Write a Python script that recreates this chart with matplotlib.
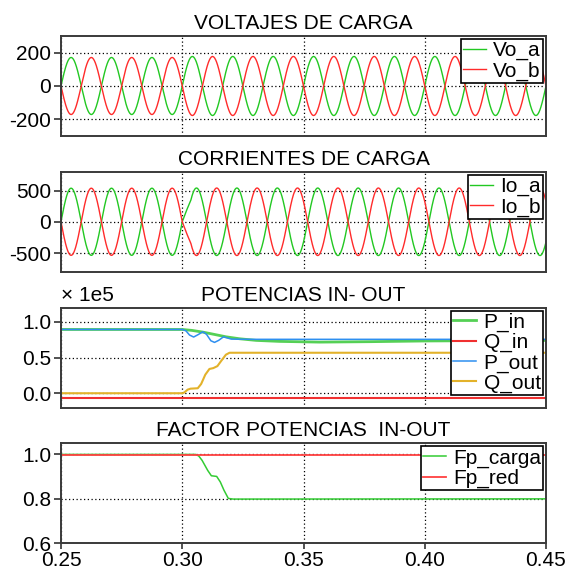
import matplotlib.pyplot as plt
import numpy as np

plt.rcParams["font.family"] = ["Liberation Sans", "DejaVu Sans"]
plt.rcParams["font.size"] = 15
plt.rcParams["axes.unicode_minus"] = False

# --- data ------------------------------------------------------------------
FREQ = 60.0           # Hz
T0, T1 = 0.25, 0.45   # s
T_EVENT = 0.30        # load change

VO_AMP_BEFORE, VO_AMP_AFTER = 171.0, 177.0
IO_AMP_BEFORE, IO_AMP_AFTER = 537.0, 540.0

# current phase lag (deg) after the load change
PHASE_T = [0.25, 0.300, 0.3035, 0.45]
PHASE_DEG = [0.0, 0.0, 36.9, 36.9]

# powers, in units of 1e5
P_IN_T = [0.25, 0.300, 0.304, 0.3085, 0.3126, 0.3181, 0.3236, 0.3305,
          0.3401, 0.3566, 0.3773, 0.40, 0.45]
P_IN = [0.893, 0.893, 0.880, 0.856, 0.828, 0.790, 0.763, 0.740,
        0.726, 0.716, 0.722, 0.732, 0.740]

Q_IN_T = [0.25, 0.45]
Q_IN = [-0.07, -0.07]

P_OUT_T = [0.25, 0.300, 0.3015, 0.3030, 0.3047, 0.3065, 0.3085, 0.3100,
           0.3118, 0.3133, 0.3150, 0.3170, 0.3185, 0.3202, 0.33, 0.45]
P_OUT = [0.893, 0.893, 0.875, 0.815, 0.787, 0.820, 0.860, 0.825,
         0.735, 0.712, 0.740, 0.790, 0.775, 0.758, 0.755, 0.755]

Q_OUT_T = [0.25, 0.3002, 0.3010, 0.3022, 0.3034, 0.3064, 0.3078, 0.3095,
           0.3112, 0.3128, 0.3145, 0.3160, 0.3180, 0.3195, 0.45]
Q_OUT = [0.0, 0.0, 0.015, 0.050, 0.064, 0.070, 0.130, 0.260,
         0.340, 0.352, 0.380, 0.450, 0.540, 0.567, 0.567]

FP_T = [0.25, 0.3055, 0.3068, 0.3082, 0.3105, 0.3120, 0.3142, 0.3157,
        0.3172, 0.3190, 0.3210, 0.45]
FP_CARGA = [1.0, 1.0, 0.993, 0.973, 0.928, 0.904, 0.901, 0.876,
            0.839, 0.802, 0.799, 0.80]

FP_RED_T = [0.25, 0.45]
FP_RED = [0.996, 0.996]

GREEN = "#22c822"
RED = "#ff2b2b"

# --- waveforms ---------------------------------------------------------------
t = np.linspace(T0, T1, 6001)
w = 2 * np.pi * FREQ
vo_amp = np.where(t < T_EVENT, VO_AMP_BEFORE, VO_AMP_AFTER)
io_amp = np.where(t < T_EVENT, IO_AMP_BEFORE, IO_AMP_AFTER)
phi = np.deg2rad(np.interp(t, PHASE_T, PHASE_DEG))

vo_a = vo_amp * np.sin(w * (t - T0))
vo_b = -vo_a
io_a = io_amp * np.sin(w * (t - T0) - phi)
io_b = -io_a

fig, axes = plt.subplots(4, 1, figsize=(5.68, 5.72), dpi=100, sharex=True)
fig.subplots_adjust(left=61 / 568, right=546 / 568, top=1 - 36 / 572,
                    bottom=1 - 543.3 / 572, hspace=0.358)


def style(ax, title, yticks, ylim):
    ax.set_title(title, pad=5, fontsize=15)
    ax.set_xlim(T0, T1)
    ax.set_ylim(*ylim)
    ax.set_yticks(yticks)
    ax.set_xticks([0.25, 0.30, 0.35, 0.40, 0.45])
    ax.grid(True, color="black", linestyle=(0, (1, 2)), linewidth=0.9)
    for s in ax.spines.values():
        s.set_color("#3a3a3a")
        s.set_linewidth(1.4)
    ax.tick_params(axis="y", length=5, width=1.2, pad=2, color="#333333")
    ax.tick_params(axis="x", length=4, width=1.2, pad=1.5, color="#333333")


def legend(ax):
    leg = ax.legend(loc="upper right", fancybox=False, framealpha=1,
                    edgecolor="black", fontsize=15, borderpad=0.1,
                    labelspacing=0.05, handlelength=1.1, handletextpad=0.35,
                    borderaxespad=0.15)
    leg.get_frame().set_linewidth(1.2)


ax = axes[0]
ax.plot(t, vo_a, color=GREEN, lw=1.0, label="Vo_a")
ax.plot(t, vo_b, color=RED, lw=1.0, label="Vo_b")
style(ax, "VOLTAJES DE CARGA", [-200, 0, 200], (-300, 300))
legend(ax)

ax = axes[1]
ax.plot(t, io_a, color=GREEN, lw=1.0, label="Io_a")
ax.plot(t, io_b, color=RED, lw=1.0, label="Io_b")
style(ax, "CORRIENTES DE CARGA", [-500, 0, 500], (-800, 800))
legend(ax)

ax = axes[2]
ax.plot(P_IN_T, P_IN, color="#55d055", lw=2.0, label="P_in")
ax.plot(Q_IN_T, Q_IN, color="#f03030", lw=1.5, label="Q_in")
ax.plot(P_OUT_T, P_OUT, color="#2e8ff0", lw=1.1, label="P_out")
ax.plot(Q_OUT_T, Q_OUT, color="#e3b22a", lw=1.5, label="Q_out")
style(ax, "POTENCIAS IN- OUT", [0.0, 0.5, 1.0], (-0.2, 1.2))
ax.yaxis.set_major_formatter(plt.FormatStrFormatter("%.1f"))
ax.text(0.0, 1.03, "\u00d7 1e5", transform=ax.transAxes, fontsize=15,
        ha="left", va="bottom")
legend(ax)

ax = axes[3]
ax.plot(FP_T, FP_CARGA, color="#33cc33", lw=1.1, label="Fp_carga")
ax.plot(FP_RED_T, FP_RED, color="#ff4040", lw=1.3, label="Fp_red")
style(ax, "FACTOR POTENCIAS  IN-OUT", [0.6, 0.8, 1.0], (0.6, 1.05))
ax.yaxis.set_major_formatter(plt.FormatStrFormatter("%.1f"))
ax.xaxis.set_major_formatter(plt.FormatStrFormatter("%.2f"))
legend(ax)

for ax in axes[:3]:
    ax.tick_params(axis="x", length=0, labelbottom=False)

fig.savefig("out.png", dpi=100)
